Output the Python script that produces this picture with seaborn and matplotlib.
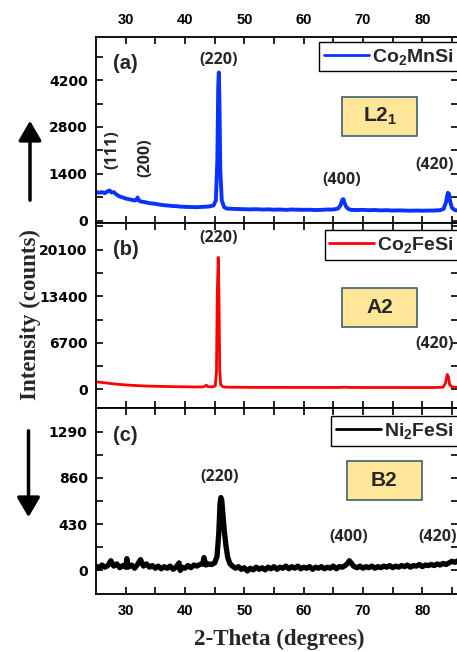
import matplotlib
matplotlib.use("Agg")
import matplotlib.pyplot as plt
import seaborn as sns
import numpy as np
import pandas as pd
from matplotlib.patches import FancyArrowPatch, Rectangle

# ---------------- data ----------------
two_theta_a = [25, 25.5, 26, 26.5, 27, 27.3, 27.6, 28, 28.3, 28.6, 29, 29.5, 30, 30.5, 31, 31.5, 31.8, 32.0, 32.2,
               32.5, 33, 33.5, 34, 34.5, 35, 35.5, 36, 36.5, 37, 37.5, 38, 38.5, 39, 39.5, 40, 41, 42, 43, 44, 44.8,
               45.2, 45.45, 45.6, 45.7, 45.8, 45.95, 46.2, 46.6, 47, 48, 49, 50, 51, 52, 53, 54, 55, 56, 57, 58, 59,
               60, 61, 62, 63, 64, 65, 65.8, 66.2, 66.5, 66.7, 66.9, 67.2, 67.6, 68, 69, 70, 71, 72, 73, 74, 75, 76,
               77, 78, 79, 80, 81, 82, 83, 83.6, 84.0, 84.3, 84.5, 84.7, 85.0, 85.5, 86]
counts_a = [860, 830, 850, 820, 880, 900, 840, 850, 800, 760, 720, 690, 660, 640, 620, 600, 620, 690, 610,
            570, 560, 540, 520, 510, 500, 485, 470, 460, 450, 445, 430, 435, 420, 415, 410, 405, 400, 410, 420, 450,
            600, 1800, 4000, 4430, 3600, 1500, 600, 400, 360, 350, 345, 340, 335, 340, 330, 335, 325, 330, 320, 330, 325,
            320, 325, 315, 320, 330, 330, 360, 450, 620, 640, 520, 400, 340, 320, 315, 320, 310, 315, 305, 310, 300, 305,
            300, 295, 300, 295, 300, 300, 310, 350, 550, 830, 800, 560, 380, 310, 300]

two_theta_b = [25, 26, 27, 28, 29, 30, 31, 32, 33, 34, 35, 36, 37, 38, 39, 40, 41, 42, 43, 43.4, 43.6, 43.8, 44.5,
               45.1, 45.3, 45.45, 45.6, 45.72, 45.85, 46.0, 46.4, 47, 48, 50, 52, 55, 58, 60, 63, 66, 67, 68, 70, 73,
               76, 79, 82, 83.5, 83.9, 84.2, 84.4, 84.6, 85.0, 86]
counts_b = [1100, 1000, 900, 800, 720, 650, 600, 550, 510, 480, 460, 440, 420, 400, 390, 380, 370, 360, 360, 500, 620,
            420, 360, 500, 2500, 14000, 18990, 14000, 3000, 700, 380, 330, 320, 310, 300, 300, 290, 290, 285, 290, 320,
            290, 280, 280, 280, 275, 280, 320, 900, 2150, 1800, 700, 350, 300]

two_theta_c = [25, 25.5, 26, 26.5, 27, 27.5, 28, 28.5, 29, 29.5, 30, 30.2, 30.4, 31, 31.5, 32, 32.5, 33, 33.5, 34,
               34.5, 35, 35.5, 36, 36.5, 37, 37.5, 38, 38.5, 39, 39.2, 39.5, 40, 40.5, 41, 41.5, 42, 42.5, 43, 43.2,
               43.5, 44, 44.5, 45, 45.4, 45.7, 45.9, 46.05, 46.2, 46.4, 46.6, 46.9, 47.2, 47.6, 48, 48.5, 49, 49.5,
               50, 50.5, 51, 51.5, 52, 52.5, 53, 53.5, 54, 54.5, 55, 55.5, 56, 56.5, 57, 57.5, 58, 58.5, 59, 59.5,
               60, 60.5, 61, 61.5, 62, 62.5, 63, 63.5, 64, 64.5, 65, 65.5, 66, 66.5, 67, 67.4, 67.7, 68, 68.4, 69,
               69.5, 70, 70.5, 71, 71.5, 72, 72.5, 73, 73.5, 74, 74.5, 75, 75.5, 76, 76.5, 77, 77.5, 78, 78.5, 79,
               79.5, 80, 80.5, 81, 81.5, 82, 82.5, 83, 83.5, 84, 84.5, 85, 85.5, 86]
counts_c = [40, 20, 50, 30, 45, 90, 40, 60, 25, 45, 30, 110, 30, 50, 20, 55, 100, 40, 60, 30,
            45, 20, 40, 15, 35, 20, 40, 10, 30, 70, 0, 30, 20, 45, 25, 50, 40, 55, 60, 120,
            50, 60, 55, 70, 130, 350, 620, 677, 650, 520, 380, 230, 120, 60, 40, 20, 35, 10,
            25, -5, 20, 5, 30, 10, 25, 5, 30, 15, 35, 10, 30, 20, 40, 15, 35, 20, 40, 15,
            30, 20, 35, 10, 30, 20, 35, 15, 30, 20, 40, 15, 35, 30, 45, 65, 90, 70, 40, 25,
            40, 20, 35, 25, 40, 20, 35, 25, 40, 30, 45, 25, 40, 30, 45, 35, 50, 30, 45, 40,
            55, 35, 50, 45, 55, 45, 60, 50, 65, 55, 70, 85, 75, 90]

samples = ["Co$_2$MnSi", "Co$_2$FeSi", "Ni$_2$FeSi"]
panel_tags = ["(a)", "(b)", "(c)"]
phases = ["L2$_1$", "A2", "B2"]
yticks_a = [0, 1400, 2800, 4200]
yticks_b = [0, 6700, 13400, 20100]
yticks_c = [0, 430, 860, 1290]
xticks = [30, 40, 50, 60, 70, 80]

# peak labels: (text, x, y, rotation)
peaks_a = [("(220)", 45.7, 4800, 0), ("(111)", 27.8, 2120, 90), ("(200)", 33.4, 1880, 90),
           ("(400)", 66.4, 1220, 0), ("(420)", 82.0, 1670, 0)]
peaks_b = [("(220)", 45.6, 21800, 0), ("(420)", 82.0, 6560, 0)]
peaks_c = [("(220)", 45.8, 870, 0), ("(400)", 67.6, 306, 0), ("(420)", 82.5, 306, 0)]

# ---------------- style ----------------
sns.set_theme(style="ticks")
plt.rcParams["font.family"] = ["Liberation Sans", "DejaVu Sans"]
plt.rcParams["font.weight"] = "bold"
plt.rcParams["mathtext.fontset"] = "custom"
plt.rcParams["mathtext.rm"] = "Liberation Sans:bold"
plt.rcParams["mathtext.it"] = "Liberation Sans:bold"
plt.rcParams["mathtext.bf"] = "Liberation Sans:bold"
plt.rcParams["mathtext.default"] = "rm"

W, H = 457, 652
fig = plt.figure(figsize=(W / 100, H / 100), dpi=100)
left, right = 96 / W, 1.002
top, bottom = 1 - 36.7 / H, 1 - 594.3 / H
hh = (top - bottom) / 3
axes = [fig.add_axes([left, top - (i + 1) * hh, right - left, hh]) for i in range(3)]

series = [
    (two_theta_a, counts_a, "#0A32FF", 2.8, (-60, 5500), yticks_a, peaks_a),
    (two_theta_b, counts_b, "#FF0000", 2.0, (-2730, 24000), yticks_b, peaks_b),
    (two_theta_c, counts_c, "#000000", 3.8, (-222, 1494), yticks_c, peaks_c),
]
legend_tops = [0.973, 0.96, 0.96]
box_pos = [(0.681, 0.466), (0.681, 0.439), (0.694, 0.505)]

for i, (ax, (xx, yy, col, lw, ylim, yt, pk)) in enumerate(zip(axes, series)):
    df = pd.DataFrame({"two_theta": xx, "counts": yy})
    sns.lineplot(data=df, x="two_theta", y="counts", ax=ax, color=col, lw=lw,
                 label=samples[i], sort=False, estimator=None)
    ax.set_xlim(25, 86)
    ax.set_ylim(*ylim)
    ax.set_xticks(xticks)
    ax.set_xticks([35, 45, 55, 65, 75, 85], minor=True)
    ax.set_yticks(yt)
    step = yt[1] - yt[0]
    ax.set_yticks([v + step / 2 for v in yt], minor=True)
    ax.set_xlabel("")
    ax.set_ylabel("")
    for s in ax.spines.values():
        s.set_linewidth(1.3)
        s.set_color("black")
    ax.tick_params(which="both", direction="in", length=5, width=1.2, top=True, right=True,
                   colors="black")
    ax.tick_params(axis="x", which="major", pad=7, labelsize=10.5,
                   labeltop=(i == 0), labelbottom=(i == 2))
    ax.tick_params(axis="y", which="major", pad=6)
    for lbl in ax.get_yticklabels():
        lbl.set_fontfamily("DejaVu Sans")
        lbl.set_fontweight("bold")
        lbl.set_fontsize(10)
    for lbl in ax.get_xticklabels():
        lbl.set_fontweight("bold")

    leg = ax.legend(loc="upper right", bbox_to_anchor=(1.0, legend_tops[i]), borderaxespad=0,
                    fontsize=14, handlelength=2.3, handletextpad=0.15, borderpad=0.25,
                    fancybox=False, framealpha=1)
    leg.get_frame().set_edgecolor("black")
    leg.get_frame().set_linewidth(1.0)
    for h in leg.get_lines():
        h.set_linewidth(2.0)

    ax.text(0.047, 0.855, panel_tags[i], transform=ax.transAxes, fontsize=14.5,
            fontweight="bold", ha="left", va="center")
    for t, px, py, rot in pk:
        ax.text(px, py, t, fontsize=11.5, fontweight="bold", ha="center", va="center",
                rotation=rot, family="Open Sans")

    bx, by = box_pos[i]
    ax.add_patch(Rectangle((bx, by), 0.206, 0.21, transform=ax.transAxes,
                           facecolor="#FFE699", edgecolor="#3E5F73", lw=1.2, zorder=4))
    ax.text(bx + 0.103, by + 0.105, phases[i], transform=ax.transAxes, fontsize=15,
            fontweight="bold", ha="center", va="center", zorder=5)

# arrows
fig.add_artist(FancyArrowPatch((30 / W, 1 - 203 / H), (30 / W, 1 - 118 / H),
                               transform=fig.transFigure, arrowstyle="-|>,head_length=6,head_width=3.5",
                               lw=2.5, color="black", mutation_scale=2))
fig.add_artist(FancyArrowPatch((28.5 / W, 1 - 428 / H), (28.5 / W, 1 - 520 / H),
                               transform=fig.transFigure, arrowstyle="-|>,head_length=6,head_width=3.5",
                               lw=2.5, color="black", mutation_scale=2))

fig.text(30 / W, 1 - 314.5 / H, "Intensity (counts)", rotation=90, ha="center", va="center",
         fontsize=16.5, fontweight="bold", family="Liberation Serif")
fig.text(279 / W, 1 - 639 / H, "2-Theta (degrees)", ha="center", va="center",
         fontsize=16.5, fontweight="bold", family="Liberation Serif")

fig.savefig("out.png", dpi=100)
